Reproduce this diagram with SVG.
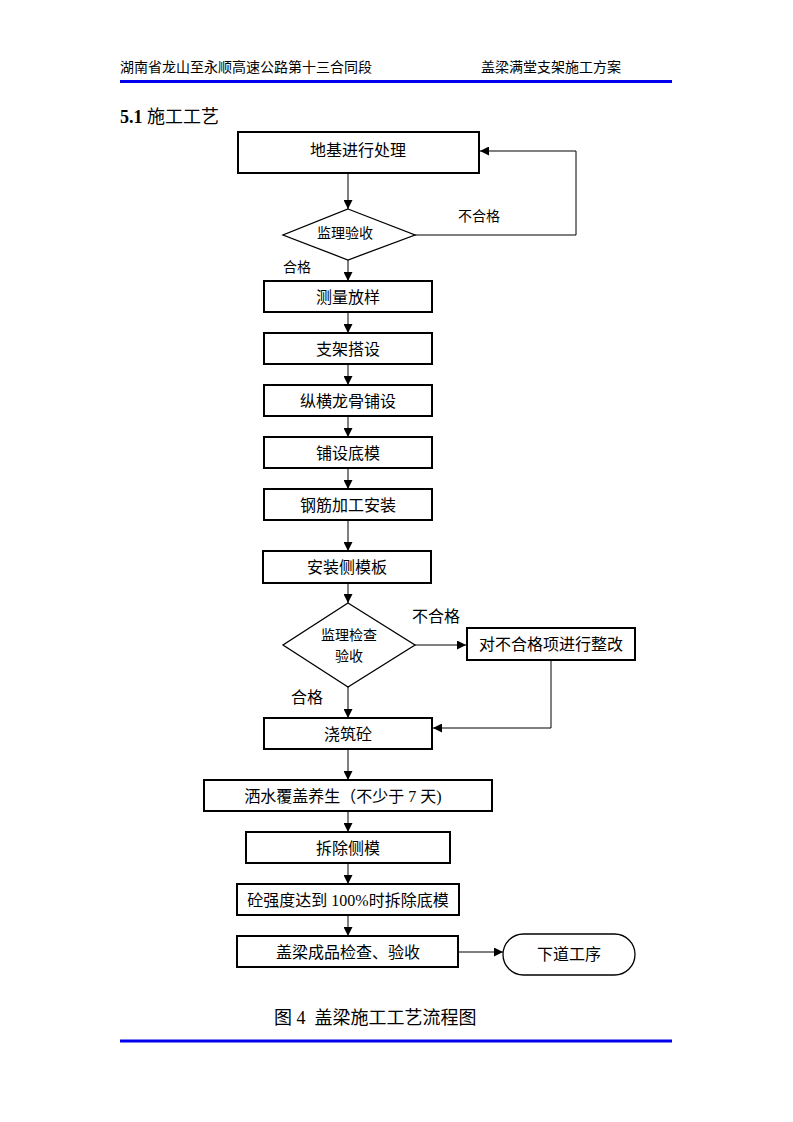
<svg xmlns="http://www.w3.org/2000/svg" width="793" height="1122" viewBox="0 0 793 1122">
<style>
text{font-family:"Liberation Serif","Noto Sans CJK SC",serif;fill:#000}
.box{fill:#fff;stroke:#000;stroke-width:2}
.dia{fill:#fff;stroke:#000;stroke-width:1.3}
.t{font-size:16px;text-anchor:middle;dominant-baseline:central}
.ts{font-size:14px;text-anchor:middle;dominant-baseline:central}
.lbl{font-size:14px}
.lbl2{font-size:16px}
.ln{fill:none;stroke:#000;stroke-width:1}
.hr{stroke:#0000ee;stroke-width:3}
</style>
<defs>
<marker id="ah" viewBox="0 0 10 10" refX="10" refY="5" markerWidth="9" markerHeight="9" markerUnits="userSpaceOnUse" orient="auto">
<path d="M0,0 L10,5 L0,10 z" fill="#000"/>
</marker>
</defs>
<rect width="793" height="1122" fill="#fff"/>
<g id="header">
<text x="120" y="72" style="font-size:14px">湖南省龙山至永顺高速公路第十三合同段</text>
<text x="481" y="72" style="font-size:14px">盖梁满堂支架施工方案</text>
<line class="hr" x1="120" y1="81.5" x2="672" y2="81.5"/>
<text x="120" y="123" style="font-size:18px"><tspan font-weight="bold">5.1</tspan> 施工工艺</text>
</g>
<g id="connectors">
<line class="ln" x1="348" y1="174" x2="348" y2="209" marker-end="url(#ah)"/>
<polyline class="ln" points="415,235 576,235 576,151 480,151" marker-end="url(#ah)"/>
<line class="ln" x1="348" y1="260" x2="348" y2="281" marker-end="url(#ah)"/>
<line class="ln" x1="348" y1="313" x2="348" y2="333" marker-end="url(#ah)"/>
<line class="ln" x1="348" y1="365" x2="348" y2="385" marker-end="url(#ah)"/>
<line class="ln" x1="348" y1="417" x2="348" y2="437" marker-end="url(#ah)"/>
<line class="ln" x1="348" y1="469" x2="348" y2="489" marker-end="url(#ah)"/>
<line class="ln" x1="348" y1="521" x2="348" y2="551" marker-end="url(#ah)"/>
<line class="ln" x1="348" y1="584" x2="348" y2="603" marker-end="url(#ah)"/>
<line class="ln" x1="415" y1="645" x2="466" y2="645" marker-end="url(#ah)"/>
<polyline class="ln" points="551,661 551,728 433,728" marker-end="url(#ah)"/>
<line class="ln" x1="348" y1="687" x2="348" y2="718" marker-end="url(#ah)"/>
<line class="ln" x1="348" y1="750" x2="348" y2="780" marker-end="url(#ah)"/>
<line class="ln" x1="348" y1="812" x2="348" y2="832" marker-end="url(#ah)"/>
<line class="ln" x1="348" y1="864" x2="348" y2="884" marker-end="url(#ah)"/>
<line class="ln" x1="348" y1="916" x2="348" y2="936" marker-end="url(#ah)"/>
<line class="ln" x1="459" y1="952" x2="503" y2="952" marker-end="url(#ah)"/>
<text class="lbl" x="458" y="221">不合格</text>
<text class="lbl" x="283" y="272">合格</text>
<text class="lbl2" x="412" y="622">不合格</text>
<text class="lbl2" x="291" y="703">合格</text>
</g>
<g id="n1"><rect class="box" x="238" y="132" width="241" height="41"/><text class="t" x="358" y="150">地基进行处理</text></g>
<g id="n2"><polygon class="dia" points="348,209 415,235 348,260 283,235"/><text class="ts" x="345" y="233">监理验收</text></g>
<g id="n3"><rect class="box" x="264" y="281" width="168" height="31"/><text class="t" x="348" y="297">测量放样</text></g>
<g id="n4"><rect class="box" x="264" y="333" width="168" height="31"/><text class="t" x="348" y="349">支架搭设</text></g>
<g id="n5"><rect class="box" x="264" y="385" width="168" height="31"/><text class="t" x="348" y="401">纵横龙骨铺设</text></g>
<g id="n6"><rect class="box" x="264" y="437" width="168" height="31"/><text class="t" x="348" y="453">铺设底模</text></g>
<g id="n7"><rect class="box" x="264" y="489" width="168" height="31"/><text class="t" x="348" y="505">钢筋加工安装</text></g>
<g id="n8"><rect class="box" x="263" y="551" width="168" height="32"/><text class="t" x="347" y="567">安装侧模板</text></g>
<g id="n9"><polygon class="dia" points="348,603 415,645 348,687 283,645"/><text class="ts" x="349" y="635">监理检查</text><text class="ts" x="349" y="656">验收</text></g>
<g id="n10"><rect class="box" x="467" y="628" width="168" height="32"/><text class="t" x="551" y="644">对不合格项进行整改</text></g>
<g id="n11"><rect class="box" x="264" y="718" width="168" height="31"/><text class="t" x="348" y="734">浇筑砼</text></g>
<g id="n12"><rect class="box" x="204" y="780" width="288" height="31"/><text class="t" x="343" y="796">洒水覆盖养生（不少于 7 天)</text></g>
<g id="n13"><rect class="box" x="246" y="832" width="204" height="31"/><text class="t" x="348" y="848">拆除侧模</text></g>
<g id="n14"><rect class="box" x="237" y="884" width="222" height="31"/><text class="t" x="348" y="900">砼强度达到 100%时拆除底模</text></g>
<g id="n15"><rect class="box" x="237" y="936" width="221" height="31"/><text class="t" x="348" y="952">盖梁成品检查、验收</text></g>
<g id="n16"><rect x="503" y="934" width="132" height="41" rx="20.5" fill="#fff" stroke="#000" stroke-width="1.3"/><text class="t" x="569" y="954">下道工序</text></g>
<g id="footer">
<text x="274" y="1024" style="font-size:18px;white-space:pre" xml:space="preserve">图 4  盖梁施工工艺流程图</text>
<line class="hr" x1="120" y1="1041" x2="672" y2="1041"/>
</g>
</svg>
